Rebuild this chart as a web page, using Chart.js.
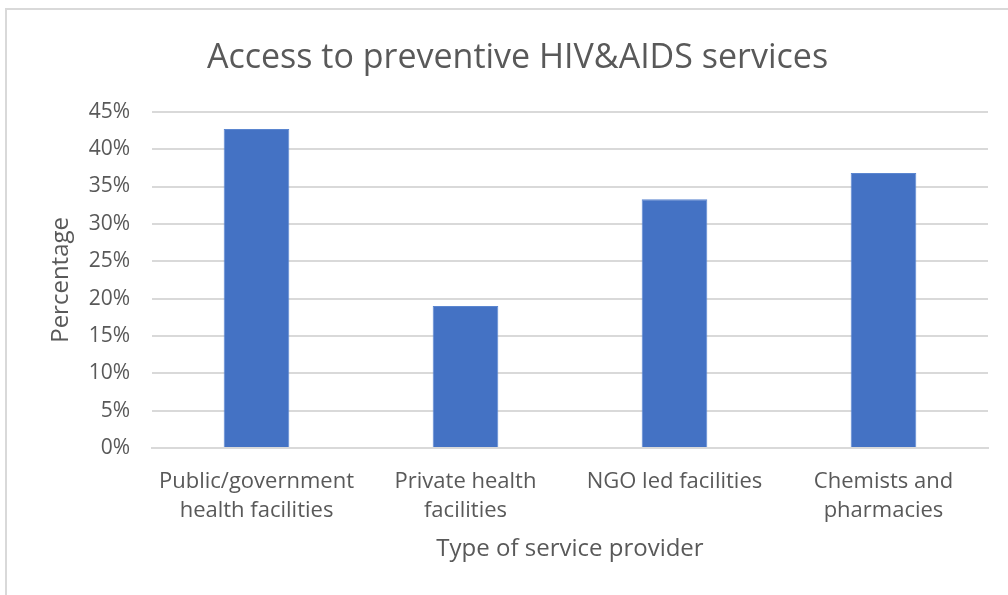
<!DOCTYPE HTML>
<html lang="en">
<head>
    <meta charset="UTF-8">
    <title>Access to preventive HIV&amp;AIDS services</title>
    <style>
        html, body {
            margin: 0;
            padding: 0;
            background: #fff;
        }
        #frame {
            position: absolute;
            left: 5px;
            top: 8px;
            width: 1003px;
            height: 587px;
            border-top: 2px solid #d9d9d9;
            border-left: 2px solid #d9d9d9;
            box-sizing: border-box;
        }
        #chart-container {
            position: absolute;
            left: 0;
            top: 0;
            width: 1008px;
            height: 595px;
        }
    </style>
</head>
<body>
    <div id="frame"></div>
    <div id="chart-container">
        <canvas id="chart"></canvas>
    </div>

    <script src="https://cdn.jsdelivr.net/npm/chart.js"></script>
    <script>
        // Dados do gráfico
        const categories = [
            ["Public/government", "health facilities"],
            ["Private health", "facilities"],
            "NGO led facilities",
            ["Chemists and", "pharmacies"]
        ];
        const percentages = [42.7, 19.0, 33.3, 36.8];
        const yTicks = [0, 5, 10, 15, 20, 25, 30, 35, 40, 45];

        const fontFamily = "'Open Sans', sans-serif";
        const textColor = "#595959";

        const chartCtx = document.getElementById("chart").getContext("2d");
        new Chart(chartCtx, {
            type: 'bar',
            data: {
                labels: categories,
                datasets: [{
                    label: 'Percentage',
                    data: percentages,
                    backgroundColor: '#4472c4',
                    borderColor: '#5b86d0',
                    borderWidth: 1,
                    barPercentage: 0.314,
                    categoryPercentage: 1
                }]
            },
            options: {
                responsive: true,
                maintainAspectRatio: false,
                animation: false,
                layout: { padding: { left: 47, right: 20, top: 38, bottom: 31 } },
                plugins: {
                    legend: { display: false },
                    tooltip: { enabled: false },
                    title: {
                        display: true,
                        text: 'Access to preventive HIV&AIDS services',
                        color: textColor,
                        font: { family: fontFamily, size: 34, weight: 'normal' },
                        padding: { top: 0, bottom: 33 }
                    }
                },
                scales: {
                    x: {
                        grid: { display: false },
                        border: { color: '#d9d9d9', width: 2 },
                        ticks: {
                            color: textColor,
                            font: { family: fontFamily, size: 22, lineHeight: 1.32 },
                            maxRotation: 0,
                            padding: 11
                        },
                        title: {
                            display: true,
                            text: 'Type of service provider',
                            color: textColor,
                            font: { family: fontFamily, size: 24 },
                            padding: { top: 11, bottom: 0 }
                        },
                        // altura fixa do eixo (Chart.js conta o padding duas vezes)
                        afterFit: axis => { axis.height = 116; }
                    },
                    y: {
                        min: 0,
                        max: 45,
                        afterBuildTicks: axis => {
                            axis.ticks = yTicks.map(v => ({ value: v }));
                        },
                        grid: { color: '#d9d9d9', lineWidth: 2, drawTicks: false },
                        border: { display: false },
                        ticks: {
                            color: textColor,
                            font: { family: fontFamily, size: 21 },
                            padding: 22,
                            callback: v => v + '%'
                        },
                        title: {
                            display: true,
                            text: 'Percentage',
                            color: textColor,
                            font: { family: fontFamily, size: 24 },
                            padding: { top: 0, bottom: 0 }
                        },
                        afterFit: axis => { axis.width = 105; }
                    }
                }
            }
        });
    </script>
</body>
</html>
